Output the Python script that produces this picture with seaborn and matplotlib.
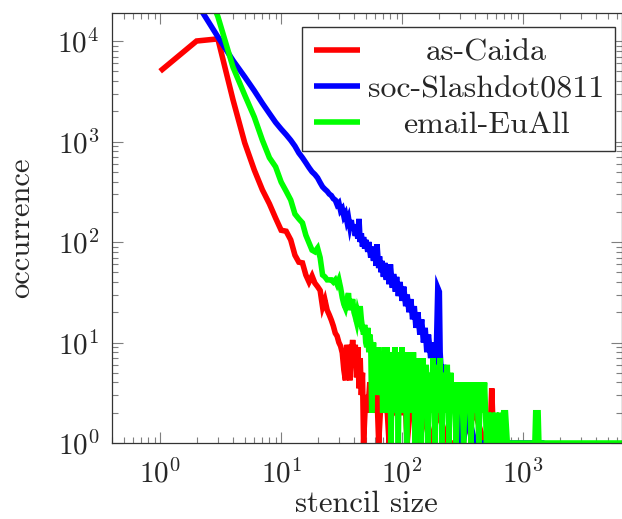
import math
import matplotlib
matplotlib.use("Agg")
import matplotlib.pyplot as plt
import pandas as pd
import seaborn as sns
from matplotlib.ticker import LogLocator, FuncFormatter, NullFormatter

# ---------------- data ----------------
series_names = ["as-Caida", "soc-Slashdot0811", "email-EuAll"]
series_colors = ["#ff0000", "#0000ff", "#00ff00"]

caida_x = list(range(1, 42)) + [42, 43, 44, 45, 46, 47, 48, 50, 52, 54, 56, 58, 60, 62, 64, 66,
                                 68, 70, 72, 74, 78, 82, 86, 90, 94, 100, 106, 110, 116, 125,
                                 135, 150, 170, 200, 240, 300, 400, 480, 530, 550, 570, 650]
caida_y = [5000, 10000, 10500, 2600, 970, 520, 330, 240, 173, 131,
           128, 105, 74, 63, 62, 47, 40, 46, 39, 36,
           33, 22.6, 26.5, 21, 18.8, 16.7, 14.6, 12.4, 11.6, 10,
           9.2, 7.9, 5.3, 4.2, 9.5, 6.7, 4.2, 7.5, 10.6, 6.7, 9.5,
           4.5, 9, 3.5, 7, 3, 5, 1, 3, 2, 4, 2, 3, 2, 3, 1, 2,
           3, 2, 2.5, 3, 1, 2, 2, 3, 2, 2, 2.5, 1, 2, 2,
           1, 2, 1, 2, 1, 1, 2, 1, 1, 3.5, 1, 1]

slash_x = list(range(1, 51)) + [52, 53, 55, 56, 58, 59, 61, 62, 64, 65, 67, 68, 70, 72, 74, 76,
                                 78, 80, 83, 85, 88, 90, 93, 96, 100, 103, 107, 110, 114, 118,
                                 122, 126, 130, 135, 140, 145, 150, 155, 160, 165, 172, 178,
                                 185, 192, 197, 203, 206, 213, 220, 228, 236, 245, 255, 265,
                                 275, 290, 300, 320, 350, 400, 700, 1500]
slash_y = [45000, 24000, 11000, 6400, 4400, 3200, 2400, 1900, 1550, 1330,
           1170, 1030, 900, 770, 690, 615, 550, 500, 470, 435,
           390, 354, 335, 320, 300, 290, 270, 262, 235, 245,
           205, 215, 180, 192, 160, 175, 142, 165, 130, 150,
           115, 140, 108, 170, 100, 122, 90, 112, 86, 105,
           80, 100, 70, 90, 65, 85, 58, 95, 55, 72, 50, 65, 45, 62, 42, 55,
           38, 60, 35, 48, 32, 45, 29, 40, 26, 36, 23, 30, 20, 27,
           17, 23, 14, 20, 12, 17, 10, 14, 8, 12, 7, 10,
           6, 9, 35, 32, 8, 4, 6, 3, 5, 2, 4, 2,
           3, 1, 3, 1, 2, 1, 1, 1]

email_x = list(range(1, 70)) + [70, 72, 73, 75, 77, 79, 81, 83, 85, 87, 89, 91, 93, 95, 98, 100,
                                 103, 106, 109, 112, 115, 118, 121, 124, 128, 132, 136, 140,
                                 144, 148, 153, 158, 163, 168, 174, 180, 186, 192, 199, 206,
                                 213, 220, 228, 236, 244, 252, 261, 270, 280, 290, 300, 311,
                                 322, 334, 346, 358, 371, 385, 399, 414, 430, 446, 462, 480,
                                 498, 516, 535, 555, 575, 596, 618, 640, 665, 690, 715, 740,
                                 1250, 1270, 1330, 1350, 7000]
email_y = [35000, 60000, 17500, 5500, 2900, 1750, 1030, 690, 560, 395,
           320, 262, 190, 170, 155, 117, 98, 83, 80, 87,
           70, 47, 45, 42, 42, 42, 40, 42, 38, 42,
           35, 28, 24, 22, 26, 31, 21, 24, 27, 20,
           18, 16, 20, 18, 23, 17, 14, 12, 15, 10,
           9, 14, 8, 12, 10, 2, 6, 10, 4, 8,
           5, 6, 3, 9, 4, 7, 3, 8, 2,
           3, 9, 4, 9, 2, 7, 1, 8, 3, 9, 2, 6, 1, 8, 3, 9,
           2, 7, 1, 8, 3, 6, 2, 8, 1, 7, 2, 6,
           1, 7, 2, 6, 1, 5, 2, 7, 1, 6, 2, 7,
           1, 5, 2, 6, 1, 5, 2, 4, 1, 4, 2, 4,
           1, 4, 2, 4, 1, 4, 2, 4, 1, 4, 2, 4,
           1, 2, 1, 2, 1, 2, 1, 2, 1, 2, 2, 1,
           1, 2, 2, 1, 1]

x_tick_values = [1, 10, 100, 1000]
y_tick_values = [1, 10, 100, 1000, 10000]

# ---------------- frame ----------------
frames = []
for name, xs, ys in zip(series_names, [caida_x, slash_x, email_x], [caida_y, slash_y, email_y]):
    frames.append(pd.DataFrame({"stencil size": xs, "occurrence": ys, "graph": name}))
df = pd.concat(frames, ignore_index=True)

sns.set_style("ticks")
plt.rcParams["font.family"] = ["cmr10", "DejaVu Serif"]
plt.rcParams["mathtext.fontset"] = "cm"
plt.rcParams["axes.formatter.use_mathtext"] = True
plt.rcParams["axes.unicode_minus"] = False

fig = plt.figure(figsize=(6.22, 5.19), dpi=100)
W, H = 622.0, 519.0
ax = fig.add_axes([112 / W, (H - 443) / H, (621.5 - 112) / W, (443 - 13) / H])

sns.lineplot(data=df, x="stencil size", y="occurrence", hue="graph",
             hue_order=series_names, palette=dict(zip(series_names, series_colors)),
             estimator=None, sort=False, linewidth=4.0, legend=False, ax=ax)
for ln in ax.lines:
    ln.set_solid_joinstyle("miter")
    ln.set_solid_capstyle("butt")

ax.set_xscale("log")
ax.set_yscale("log")
ax.set_xlim(0.4, 6500)
ax.set_ylim(1, 19000)

fmt = FuncFormatter(lambda v, p: r"$10^{%d}$" % round(math.log10(v)))
ax.xaxis.set_minor_locator(LogLocator(base=10, subs=range(2, 10)))
ax.yaxis.set_minor_locator(LogLocator(base=10, subs=range(2, 10)))
ax.set_xticks(x_tick_values)
ax.set_yticks(y_tick_values)
ax.xaxis.set_major_formatter(fmt)
ax.yaxis.set_major_formatter(fmt)
ax.xaxis.set_minor_formatter(NullFormatter())
ax.yaxis.set_minor_formatter(NullFormatter())

tick_col = "#7f7f7f"
ax.tick_params(which="both", direction="in", top=True, right=True, color=tick_col,
               labelsize=21, width=0.8)
ax.tick_params(which="major", length=8)
ax.tick_params(axis="x", which="major", pad=12)
ax.tick_params(axis="y", which="major", pad=9)
ax.tick_params(which="minor", length=4.5)
for s in ax.spines.values():
    s.set_visible(True)
    s.set_color("#333333")
    s.set_linewidth(0.9)

ax.set_xlabel("stencil size", fontsize=22, labelpad=1)
ax.set_ylabel("occurrence", fontsize=22, labelpad=16)

handles = ax.lines[:3]
leg = ax.legend(handles, series_names, loc="upper right", bbox_to_anchor=(0.988, 0.967),
                borderaxespad=0, frameon=True, fancybox=False, edgecolor="#333333",
                framealpha=1, fontsize=23, handlelength=1.45, handletextpad=0.25,
                borderpad=0.35, labelspacing=0.25)
leg.get_frame().set_linewidth(1.0)

fig.canvas.draw()
texts = leg.get_texts()
ws = [t.get_window_extent().width for t in texts]
for t, w in zip(texts, ws):
    t.set_x((max(ws) - w) / 2)

fig.savefig("out.png", dpi=100)
